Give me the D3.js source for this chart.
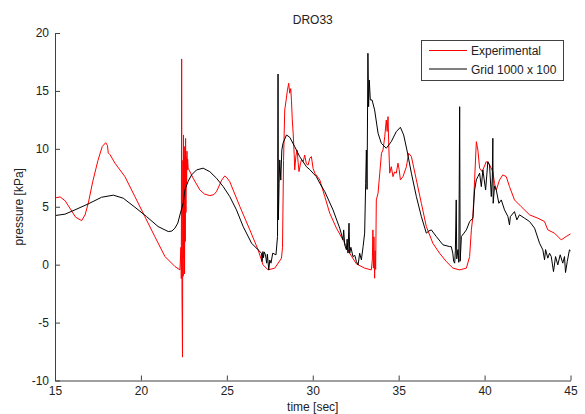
<!DOCTYPE html>
<html>
<head>
<meta charset="utf-8">
<script src="https://cdn.jsdelivr.net/npm/d3@7"></script>
<style>
  body { margin: 0; background: #fff; }
  svg { display: block; font-family: "Liberation Sans", Arial, sans-serif; }
</style>
</head>
<body>
<svg id="chart" width="585" height="414"></svg>
<script>
// values, [time sec, pressure kPa]
const experimental = [
  [15.0,5.76],[15.3,5.85],[15.6,5.5],[15.9,4.8],[16.2,4.1],[16.55,3.8],[16.75,4.3],[16.94,5.33],
  [17.2,7.2],[17.5,9.0],[17.75,10.2],[17.95,10.53],[18.05,10.3],[18.1,9.65],[18.2,9.5],[18.49,8.76],
  [19.07,7.6],[19.65,5.88],[20.23,4.15],[20.81,2.42],[21.4,0.7],[21.98,-0.16],[22.27,-0.45],
  [22.33,1.5],[22.35,-1.2],[22.37,17.76],[22.39,-2.5],[22.42,-7.98],[22.44,9.0],[22.46,-1.0],
  [22.48,11.2],[22.5,0.5],[22.52,10.2],[22.54,-0.8],[22.56,9.4],[22.58,2.0],[22.6,10.9],[22.62,4.5],
  [22.64,9.3],[22.66,7.0],[22.68,9.8],[22.7,8.2],[22.72,9.1],[22.75,8.33],
  [23.04,7.46],[23.43,6.45],[23.7,6.1],[24.01,5.96],[24.25,6.05],[24.4,6.31],[24.7,7.3],[24.88,7.66],
  [25.0,7.5],[25.17,7.17],[25.76,5.01],[26.34,3.0],[26.82,1.28],[27.11,-0.02],[27.4,-0.45],
  [27.79,-0.3],[28.18,0.56],[28.24,1.5],[28.3,9.0],[28.37,13.36],[28.45,14.2],[28.52,15.0],
  [28.6,15.66],[28.66,14.8],[28.72,15.2],[28.76,14.2],[28.81,12.5],[28.86,11.35],[28.92,9.5],
  [28.95,8.18],[29.02,9.4],[29.09,9.9],[29.15,8.8],[29.2,8.03],[29.28,8.7],[29.34,9.04],[29.45,8.9],
  [29.53,9.47],[29.63,8.7],[29.73,8.6],[29.83,9.19],[29.92,9.33],[30.02,8.3],[30.12,7.9],[30.41,7.32],
  [30.7,5.88],[30.99,4.44],[31.38,3.15],[31.76,2.14],[32.15,0.99],[32.54,0.07],[33.02,-0.3],
  [33.41,-0.45],[33.47,0.5],[33.5,3.0],[33.53,-0.3],[33.56,2.4],[33.6,-1.17],[33.63,1.2],[33.66,-0.4],
  [33.7,5.59],[33.8,6.17],[33.9,7.9],[34.0,9.62],[34.09,9.9],[34.19,11.05],[34.28,12.49],[34.33,11.5],
  [34.38,12.78],[34.43,10.0],[34.48,7.9],[34.57,8.46],[34.67,7.6],[34.76,8.0],[34.86,7.9],[34.96,8.76],
  [35.03,8.2],[35.1,7.32],[35.25,7.6],[35.45,8.46],[35.58,9.62],[35.74,9.33],[36.03,7.32],[36.32,5.3],
  [36.61,3.29],[36.99,1.85],[37.38,0.99],[37.77,0.27],[38.16,-0.3],[38.55,-0.45],[38.94,-0.3],
  [39.13,0.7],[39.23,3.0],[39.32,4.15],[39.42,7.32],[39.52,10.62],[39.61,9.9],[39.71,8.33],[39.86,8.03],
  [40.1,8.9],[40.29,8.61],[40.48,8.03],[40.58,7.0],[40.68,6.45],[40.87,7.32],[41.06,7.75],[41.26,7.6],
  [41.45,6.74],[41.74,5.59],[42.13,5.01],[42.62,4.3],[43.1,4.01],[43.49,3.72],[43.68,3.0],[44.07,2.72],
  [44.46,2.14],[44.75,2.43],[45.0,2.66]
]

const grid = [
  [15.0,4.24],[15.58,4.36],[16.16,4.73],[16.94,5.25],[17.71,5.82],[18.39,6.0],[18.97,5.74],[19.65,4.96],
  [20.33,4.15],[21.0,3.29],[21.59,2.86],[21.8,2.9],[21.98,3.15],[22.15,3.6],[22.27,4.3],[22.46,5.3],
  [22.56,6.45],[22.75,7.2],[22.95,7.75],[23.24,8.18],[23.62,8.33],[24.01,8.03],[24.4,7.46],[24.79,6.74],
  [25.17,5.88],[25.56,4.73],[25.95,3.29],[26.44,1.85],[26.82,1.28],[27.02,0.99],[27.05,0.27],[27.1,1.13],
  [27.13,0.6],[27.18,1.1],[27.25,0.85],[27.32,0.13],[27.36,0.9],[27.44,-0.45],[27.5,0.4],[27.57,0.13],
  [27.67,0.99],[27.86,0.85],[27.95,2.43],[27.98,16.46],[28.0,3.87],[28.04,7.03],[28.08,9.04],[28.14,7.3],
  [28.2,9.9],[28.27,10.48],[28.47,11.2],[28.66,11.0],[28.95,10.19],[29.24,9.33],[29.63,8.46],[29.83,8.2],
  [30.02,7.9],[30.21,7.6],[30.41,7.03],[30.7,6.31],[31.18,4.73],[31.57,3.15],[31.76,2.14],[31.8,3.0],
  [31.86,1.7],[31.96,1.28],[32.0,2.2],[32.05,1.0],[32.11,3.58],[32.15,0.99],[32.22,1.5],[32.34,0.7],
  [32.45,0.8],[32.54,0.27],[32.64,-0.02],[32.73,0.99],[32.83,0.42],[32.93,1.56],[33.02,2.72],[33.08,7.03],
  [33.12,9.9],[33.16,6.5],[33.21,18.25],[33.25,13.64],[33.29,15.94],[33.35,14.22],[33.45,14.22],
  [33.6,13.36],[33.8,11.35],[33.99,10.48],[34.28,10.05],[34.57,10.62],[34.86,11.48],[35.1,11.86],
  [35.29,11.2],[35.48,9.9],[35.74,7.9],[36.03,5.88],[36.32,4.15],[36.61,2.72],[36.75,2.9],[36.9,3.0],
  [37.19,2.43],[37.58,1.71],[37.97,1.56],[38.06,1.56],[38.15,1.0],[38.2,0.3],[38.26,0.13],[38.3,1.2],
  [38.35,5.59],[38.38,0.5],[38.45,1.3],[38.5,0.2],[38.55,13.64],[38.58,0.3],[38.65,2.43],[38.8,2.72],
  [38.94,3.0],[39.13,3.72],[39.32,4.01],[39.42,6.45],[39.52,7.32],[39.61,7.6],[39.71,7.9],[39.81,6.74],
  [39.9,8.18],[40.06,6.45],[40.19,8.9],[40.29,8.61],[40.39,5.88],[40.45,7.5],[40.48,10.91],[40.5,5.3],
  [40.58,6.8],[40.68,6.45],[40.83,5.3],[40.97,5.59],[41.16,4.73],[41.36,4.15],[41.45,3.43],[41.5,4.15],
  [41.74,4.58],[41.88,3.87],[42.03,4.3],[42.33,4.01],[42.62,3.72],[42.91,3.15],[43.2,1.85],[43.39,1.28],
  [43.49,0.42],[43.55,1.3],[43.68,0.56],[43.78,0.99],[43.88,0.7],[44.01,-0.6],[44.13,0.7],[44.26,-0.02],
  [44.4,0.85],[44.55,0.13],[44.65,0.7],[44.71,-0.68],[44.81,0.27],[44.94,1.28],[45.0,1.2]
]

const xTicks = [15, 20, 25, 30, 35, 40, 45]
const yTicks = [-10, -5, 0, 5, 10, 15, 20]
const seriesNames = ["Experimental", "Grid 1000 x 100"]
const seriesColors = ["#ff0000", "#000000"]

const svg = d3.select("#chart")
const mLeft = 55, mRight = 570.5, mTop = 33, mBottom = 380.5

const x = d3.scaleLinear().domain([15, 45]).range([mLeft, mRight])
const y = d3.scaleLinear().domain([-10, 20]).range([mBottom, mTop])

const line = d3.line().x(d => x(d[0])).y(d => y(d[1]))

// data lines first, axes on top like matlab
svg.append("path").datum(experimental).attr("d", line)
  .attr("fill", "none").attr("stroke", seriesColors[0]).attr("stroke-width", 1)
svg.append("path").datum(grid).attr("d", line)
  .attr("fill", "none").attr("stroke", seriesColors[1]).attr("stroke-width", 1)

// axes, ticks point inward, plain hyphen for minus like matlab
const fmt = d => String(d)
const xAxis = svg.append("g").attr("transform", `translate(0,${mBottom})`)
  .call(d3.axisBottom(x).tickValues(xTicks).tickFormat(fmt).tickSizeInner(-5).tickSizeOuter(0).tickPadding(5.5))
const yAxis = svg.append("g").attr("transform", `translate(${mLeft},0)`)
  .call(d3.axisLeft(y).tickValues(yTicks).tickFormat(fmt).tickSizeInner(-5).tickSizeOuter(0).tickPadding(6))

;[xAxis, yAxis].forEach(a => {
  a.select(".domain").attr("stroke", "#404040")
  a.selectAll(".tick line").attr("stroke", "#404040")
  a.selectAll(".tick text").attr("fill", "#222").style("font-size", "12px")
    .style("font-family", '"Liberation Sans", Arial, sans-serif')
})

svg.append("text").attr("x", (mLeft + mRight) / 2).attr("y", 24)
  .attr("text-anchor", "middle").attr("font-size", 12).attr("fill", "#222").text("DRO33")
svg.append("text").attr("x", (mLeft + mRight) / 2).attr("y", 411)
  .attr("text-anchor", "middle").attr("font-size", 12).attr("fill", "#222").text("time [sec]")
svg.append("text").attr("transform", `translate(23,${(mTop + mBottom) / 2}) rotate(-90)`)
  .attr("text-anchor", "middle").attr("font-size", 12).attr("fill", "#222").text("pressure [kPa]")

// legend
const lg = svg.append("g")
lg.append("rect").attr("x", 421.5).attr("y", 40.5).attr("width", 142).attr("height", 40)
  .attr("fill", "#fff").attr("stroke", "#404040")
seriesNames.forEach((name, i) => {
  let ly = 50.5 + i * 18.5
  lg.append("line").attr("x1", 429).attr("x2", 467).attr("y1", ly).attr("y2", ly)
    .attr("stroke", seriesColors[i])
  lg.append("text").attr("x", 471).attr("y", ly + 4.5).attr("font-size", 12).attr("fill", "#222").text(name)
})
</script>
</body>
</html>
